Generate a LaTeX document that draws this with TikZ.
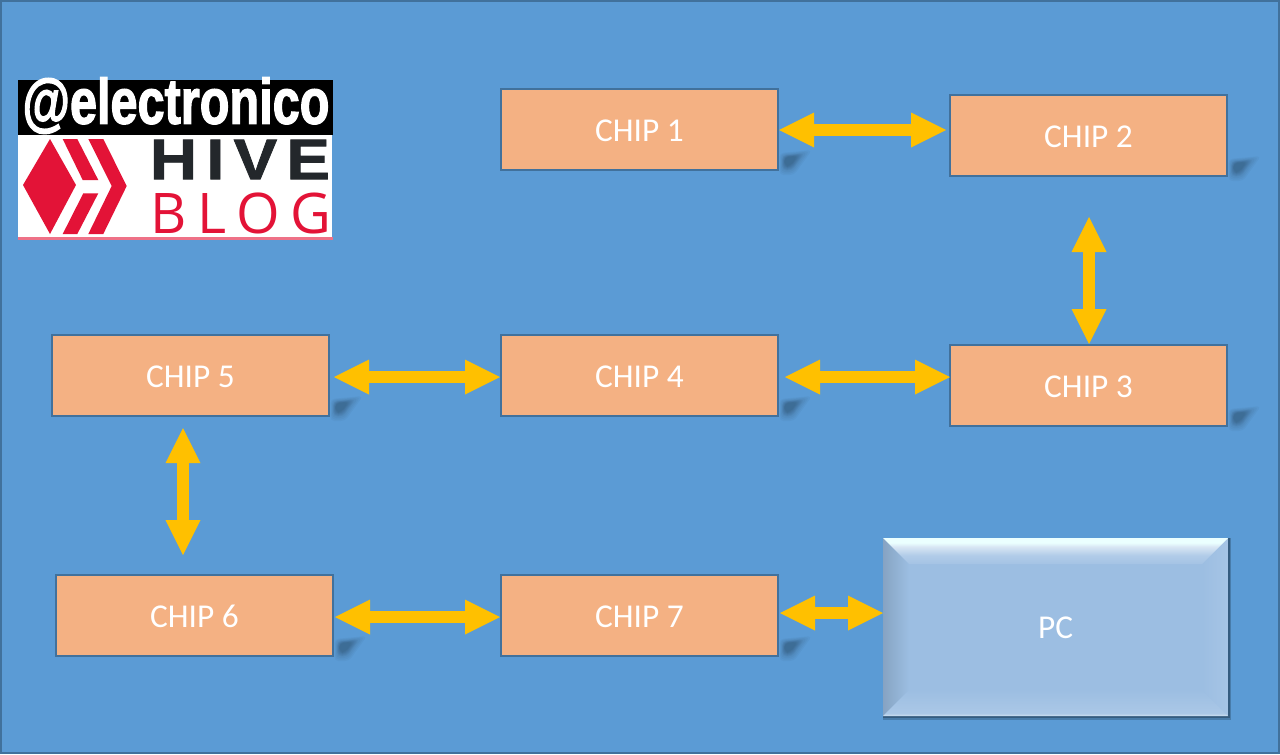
\documentclass[tikz,border=0pt]{standalone}
\usepackage{fontspec}
\setmainfont{Carlito}
\newfontfamily\handlefont{Liberation Sans Bold}[FakeBold=2.2]
\newfontfamily\hivefont{Liberation Sans Bold}[LetterSpace=14,FakeBold=1.2]
\newfontfamily\blogfont{Open Sans}[LetterSpace=19]
\usetikzlibrary{arrows.meta,calc}

\definecolor{slideblue}{HTML}{5B9BD5}
\definecolor{edgeblue}{HTML}{41719C}
\definecolor{chipfill}{HTML}{F4B183}
\definecolor{busyellow}{HTML}{FFC000}
\definecolor{hivered}{HTML}{E31337}
\definecolor{hivedark}{HTML}{23272B}
\definecolor{pcface}{HTML}{9CBEE2}

\pgfdeclareverticalshading{pctopfacet}{100bp}{color(0bp)=(pcface!92!white); color(25bp)=(pcface!92!white); color(42bp)=(pcface!78!white); color(58bp)=(pcface!40!white); color(66bp)=(white!92!cyan); color(75bp)=(white!92!cyan); color(100bp)=(white!92!cyan)}
\pgfdeclareverticalshading{pcbotfacet}{100bp}{color(0bp)=(pcface!45!white); color(25bp)=(pcface!45!white); color(30bp)=(pcface!85!white); color(75bp)=(pcface); color(100bp)=(pcface)}

\tikzset{every picture/.style={line width=0.75pt}}
\tikzset{
	chipbox/.style={draw=edgeblue,line width=1.5pt,outer sep=0pt,fill=chipfill,text=white,minimum width=207.75pt,minimum height=60.75pt,inner sep=0pt,text height=18pt,font=\fontsize{25}{29}\selectfont},
	pcbox/.style={fill=pcface,outer sep=0pt,text=white,minimum width=258.75pt,minimum height=133.5pt,inner sep=0pt,text height=18pt,font=\fontsize{25}{29}\selectfont},
	busarrow/.style={draw=busyellow,line width=9pt,{Triangle[length=26.25pt,width=26.25pt,line width=0pt]}-{Triangle[length=26.25pt,width=26.25pt,line width=0pt]}},
	logotext/.style={inner sep=0pt,anchor=center}
}

\begin{document}
\begin{tikzpicture}[x=0.75pt,y=0.75pt,yscale=-1,xscale=1]
			\useasboundingbox (0,0) rectangle (1280,754);

			%Shape: Slide background
			\fill [slideblue] (0,0) rectangle (1280,754);
			\draw [edgeblue,line width=1.5pt] (1,1) rectangle (1279,753);

			%Shape: Logo
			\fill [black] (18,80) rectangle (333,135);
			\fill [white] (18,135) rectangle (332,238);
			\fill [hivered!60!white] (18,237) rectangle (333,240);
			\fill [hivered] (23,185) -- (50,139) -- (76,185) -- (50,234) -- cycle;
			\fill [hivered] (62.7,139) -- (77.3,139) -- (98.3,180) -- (82.7,180) -- cycle;
			\fill [hivered] (62.7,234) -- (83.3,193.3) -- (98.3,193.3) -- (77.3,234) -- cycle;
			\fill [hivered] (88.3,139) -- (103.3,139) -- (126.7,186) -- (103.3,234) -- (88.3,234) -- (111.7,186) -- cycle;
			% Text Node
			\node (handle) [logotext,text=white,xscale=0.76] at (176,105.5) {\fontsize{48}{48}\selectfont\handlefont @electronico};
			% Text Node
			\node (hive) [logotext,text=hivedark,xscale=1.14] at (240,159.5) {\fontsize{43}{43}\selectfont\hivefont HIVE};
			% Text Node
			\node (blog) [logotext,text=hivered] at (241,213) {\fontsize{42}{42}\selectfont\blogfont BLOG};

			%Shape: Chips
			\node (chip1) [chipbox] at (639.5,129.5) {CHIP 1};
			\node (chip2) [chipbox] at (1088.5,135.5) {CHIP 2};
			\node (chip3) [chipbox] at (1088.5,385.5) {CHIP 3};
			\node (chip4) [chipbox] at (639.5,375.5) {CHIP 4};
			\node (chip5) [chipbox] at (190.5,375.5) {CHIP 5};
			\node (chip6) [chipbox] at (194.5,615.5) {CHIP 6};
			\node (chip7) [chipbox] at (639.5,615.5) {CHIP 7};

			% Soft shadows to the right of each chip
			\foreach \chipname in {chip1,chip2,chip3,chip4,chip5,chip6,chip7}{
				\begin{scope}[shift={($(\chipname.south east)+(10,-10)$)}]
					\foreach \s in {1,0.9,0.8,0.7,0.65,0.6,0.55,0.5,0.45,0.4}{
						\fill [black,opacity=0.03,rounded corners=3pt,scale=\s] (-8.5,-7) -- (24,-10) -- (6,15) -- (-8.5,15) -- cycle;
					}
				\end{scope}
			}

			%Shape: PC with bevelled edges
			\fill [black,opacity=0.2] (883,538) rectangle (1231,720);
			\fill [black,opacity=0.25] (883,538) rectangle (1229.5,718);
			\node (pc) [pcbox] at (1055.5,627) {PC};
			\coordinate (pcnw) at ($(pc.north west)+(26,26)$);
			\coordinate (pcne) at ($(pc.north east)+(-26,26)$);
			\coordinate (pcsw) at ($(pc.south west)+(26,-26)$);
			\coordinate (pcse) at ($(pc.south east)+(-26,-26)$);
			\shade [left color=black!14!pcface,right color=pcface] (pc.north west) -- (pcnw) -- (pcsw) -- (pc.south west) -- cycle;
			\shade [left color=pcface,right color=white!10!pcface] (pc.north east) -- (pcne) -- (pcse) -- (pc.south east) -- cycle;
			\shade [shading=pctopfacet] (pc.north west) -- (pc.north east) -- (pcne) -- (pcnw) -- cycle;
			\shade [shading=pcbotfacet] (pc.south west) -- (pcsw) -- (pcse) -- (pc.south east) -- cycle;

			% Free ends of the buses that stop short of a chip
			\coordinate (bus1a) at (1089,217);
			\coordinate (bus1b) at (1089,344);
			\coordinate (bus2a) at (183,428);
			\coordinate (bus2b) at (183,555);
			\coordinate (bus3a) at (780,613);

			%Shape: Buses
			\draw [busarrow] ($(chip1.east)+(1,0.5)$) -- ($(chip1.east -| chip2.west)+(-4,0.5)$);
			\draw [busarrow] (bus1a) -- (bus1b);
			\draw [busarrow] ($(chip4.east |- chip3.west)+(7,-8.5)$) -- ($(chip3.west)+(0,-8.5)$);
			\draw [busarrow] ($(chip5.east)+(5,1.5)$) -- ($(chip4.west)+(-1,1.5)$);
			\draw [busarrow] (bus2a) -- (bus2b);
			\draw [busarrow] ($(chip6.east)+(2,1.5)$) -- ($(chip7.west)+(-1,1.5)$);
			\draw [busarrow] (bus3a) -- (bus3a -| pc.west);
\end{tikzpicture}
\end{document}
